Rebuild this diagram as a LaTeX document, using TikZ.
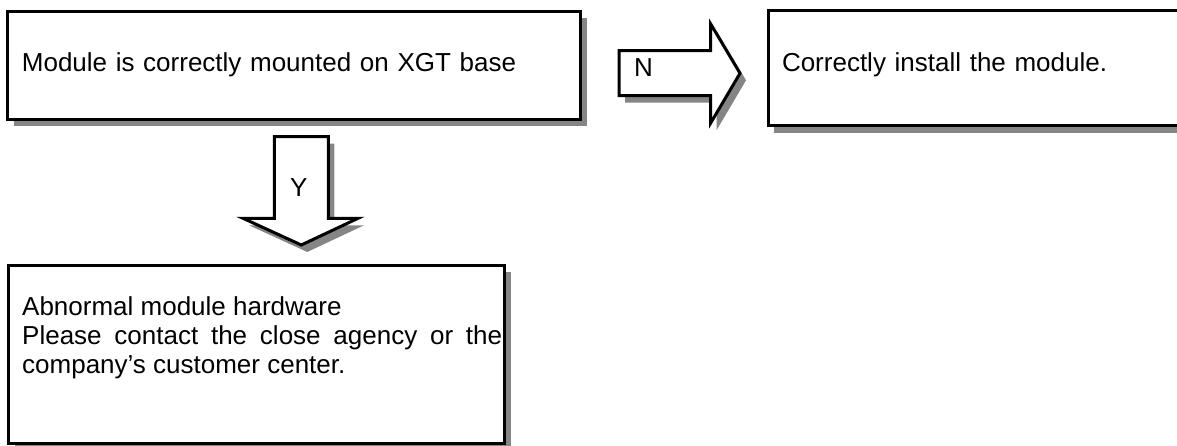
\documentclass[tikz,border=0pt]{standalone}
\usepackage{fontspec}
\setmainfont{Liberation Sans}
\usetikzlibrary{shadows}

\begin{document}
\begin{tikzpicture}[x=1pt,y=-1pt,font=\fontsize{26pt}{29pt}\selectfont,
  box/.style={draw,line width=3pt,fill=white,inner xsep=14pt,inner ysep=0pt,align=left,
    drop shadow={shadow xshift=6pt,shadow yshift=-7pt,fill=black!48,opacity=1}},
  lab/.style={inner sep=0pt,anchor=base west},
  blockarr/.style={draw,line width=3pt,fill=white,miter limit=20,
    drop shadow={shadow xshift=6pt,shadow yshift=-7pt,fill=black!48,opacity=1}}]
\clip (0,0) rectangle (1177,446);
\node[box,minimum width=573pt,minimum height=108pt,text width=545pt] (mounted) at (294.4,65.2) {Module is correctly mounted on XGT base};
\node[box,minimum width=432pt,minimum height=115pt,text width=404pt,text depth=13pt] (install) at (984,68.5) {Correctly install the module.};
\node[box,minimum width=496pt,minimum height=178pt] (hardware) at (256.5,354) {};
\node[lab,anchor=north west,text width=480pt,align=justify] (hwtext) at (22,296) {Abnormal module hardware\\ Please contact the close agency or the company’s customer center.};
% N arrow
\draw[blockarr] (619,50.7) -- (710.7,50.7) -- (710.7,24) -- (740,73.3) -- (710.7,123) -- (710.7,95.7) -- (619,95.7) -- cycle;
\node[lab] (nolab) at (634,77) {N};
% Y arrow
\draw[blockarr] (274.3,136.7) -- (328.3,136.7) -- (328.3,218.3) -- (358,218.3) -- (301.3,245) -- (243,218.3) -- (274.3,218.3) -- cycle;
\node[lab] (yeslab) at (290,197) {Y};
\end{tikzpicture}
\end{document}
